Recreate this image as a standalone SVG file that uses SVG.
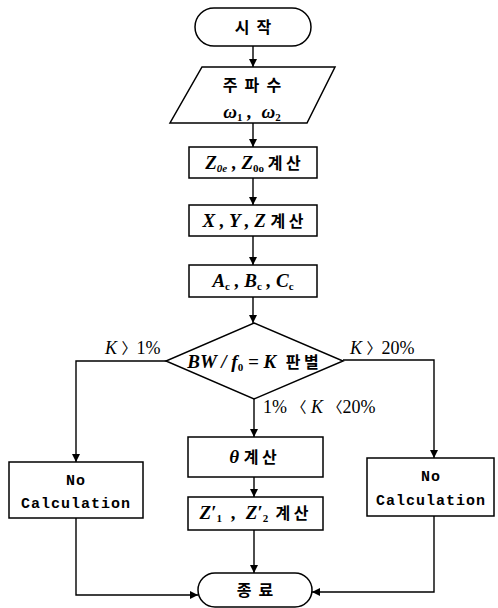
<svg xmlns="http://www.w3.org/2000/svg" width="498" height="608" viewBox="0 0 498 608">
<defs>
<marker id="arr" viewBox="0 0 10 10" refX="10" refY="5" markerWidth="9" markerHeight="8" markerUnits="userSpaceOnUse" orient="auto">
<path d="M0,0 L10,5 L0,10 z" fill="#000"/>
</marker>
</defs>
<style>
text{white-space:pre}
.shape{fill:#fff;stroke:#000;stroke-width:1.5}
.con{fill:none;stroke:#000;stroke-width:1.4;marker-end:url(#arr)}
.kr{font-family:"Noto Sans CJK KR",sans-serif;font-size:16px;font-weight:bold;fill:#000}
.m{font-family:"Liberation Serif",serif;font-style:italic;font-weight:bold;font-size:19px;fill:#000}
.sub{font-family:"Liberation Serif",serif;font-size:11px;font-weight:bold;fill:#000}
.mono{font-family:"Liberation Mono",monospace;font-size:15px;font-weight:bold;letter-spacing:1px;fill:#000}
.lab{font-family:"Liberation Serif",serif;font-size:18px;fill:#000}
.br{font-family:"Noto Sans CJK KR",sans-serif;font-size:15px;font-style:normal}
</style>
<g id="connectors">
<path class="con" d="M253,46 V67"/>
<path class="con" d="M253,123 V147"/>
<path class="con" d="M253,178 V205"/>
<path class="con" d="M253,236 V265"/>
<path class="con" d="M253,297 V323"/>
<path class="con" d="M254,399 V437"/>
<path class="con" d="M254,477 V497"/>
<path class="con" d="M254,530 V573"/>
<path class="con" d="M166,361 H76 V462"/>
<path class="con" d="M343,360 H434 V458"/>
<path class="con" d="M76,518 V595 H198"/>
<path class="con" d="M434,516 V592 H312"/>
</g>
<g id="start">
<rect class="shape" x="195" y="8" width="116" height="38" rx="19"/>
<text class="kr" x="253" y="33" text-anchor="middle">시  작</text>
</g>
<g id="input">
<polygon class="shape" points="202,67 335,67 307,123 170,123"/>
<text class="kr" x="252" y="91" text-anchor="middle">주  파  수</text>
<text x="252" y="118" text-anchor="middle"><tspan class="m">ω</tspan><tspan class="sub" dy="3">1</tspan><tspan class="m" dy="-3"> ,  ω</tspan><tspan class="sub" dy="3">2</tspan></text>
</g>
<g id="z0">
<rect class="shape" x="189" y="147" width="128" height="31"/>
<text x="253" y="169" text-anchor="middle"><tspan class="m">Z</tspan><tspan class="sub" font-style="italic" dy="3">0e</tspan><tspan class="m" dy="-3"> , Z</tspan><tspan class="sub" dy="3">0o</tspan><tspan class="kr" dy="-3"> 계 산</tspan></text>
</g>
<g id="xyz">
<rect class="shape" x="189" y="205" width="128" height="31"/>
<text x="253" y="227" text-anchor="middle"><tspan class="m">X , Y , Z </tspan><tspan class="kr">계 산</tspan></text>
</g>
<g id="abc">
<rect class="shape" x="189" y="265" width="128" height="32"/>
<text x="253" y="287" text-anchor="middle"><tspan class="m">A</tspan><tspan class="sub" dy="3">c</tspan><tspan class="m" dy="-3"> , B</tspan><tspan class="sub" dy="3">c</tspan><tspan class="m" dy="-3"> , C</tspan><tspan class="sub" dy="3">c</tspan></text>
</g>
<g id="decision">
<polygon class="shape" points="254,323 343,361 254,399 166,361"/>
<text x="253" y="368" text-anchor="middle"><tspan class="m">BW / f</tspan><tspan class="sub" dy="3">0</tspan><tspan class="m" dy="-3"> = K  </tspan><tspan class="kr">판 별</tspan></text>
</g>
<g id="labels">
<text class="lab" x="105" y="354"><tspan font-style="italic">K</tspan> <tspan class="br">〉</tspan>1%</text>
<text class="lab" x="350" y="354"><tspan font-style="italic">K</tspan> <tspan class="br">〉</tspan>20%</text>
<text class="lab" x="263" y="413">1% <tspan class="br">〈</tspan> <tspan font-style="italic">K</tspan> <tspan class="br">〈</tspan>20%</text>
</g>
<g id="theta">
<rect class="shape" x="188" y="437" width="135" height="40"/>
<text x="253" y="463" text-anchor="middle"><tspan class="m">θ </tspan><tspan class="kr">계 산</tspan></text>
</g>
<g id="zprime">
<rect class="shape" x="188" y="497" width="135" height="33"/>
<text x="254" y="519" text-anchor="middle"><tspan class="m">Z′</tspan><tspan class="sub" dy="3">1</tspan><tspan class="m" dy="-3">  ,  Z′</tspan><tspan class="sub" dy="3">2</tspan><tspan class="kr" dy="-3">  계 산</tspan></text>
</g>
<g id="nocalc-left">
<rect class="shape" x="9" y="462" width="134" height="56"/>
<text class="mono" x="76" y="485" text-anchor="middle">No</text>
<text class="mono" x="76" y="508" text-anchor="middle">Calculation</text>
</g>
<g id="nocalc-right">
<rect class="shape" x="367" y="458" width="127" height="58"/>
<text class="mono" x="431" y="481" text-anchor="middle">No</text>
<text class="mono" x="431" y="505" text-anchor="middle">Calculation</text>
</g>
<g id="end">
<rect class="shape" x="198" y="573" width="114" height="34" rx="17"/>
<text class="kr" x="255" y="596" text-anchor="middle">종  료</text>
</g>
</svg>
